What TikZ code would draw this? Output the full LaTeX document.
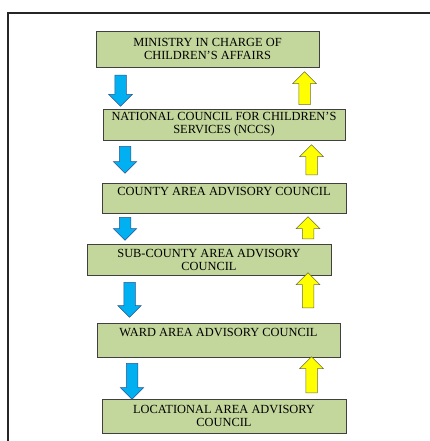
\documentclass[tikz,border=0pt]{standalone}
\usepackage{fontspec}
\setmainfont{Liberation Serif}
\usetikzlibrary{shapes.arrows}

\definecolor{councilgreen}{RGB}{195,214,155}
\definecolor{boxline}{RGB}{64,64,64}
\definecolor{downblue}{RGB}{0,176,240}
\definecolor{downline}{RGB}{47,82,143}
\definecolor{upyellow}{RGB}{255,255,0}
\definecolor{upline}{RGB}{110,110,60}

\tikzset{
  council/.style={draw=boxline, fill=councilgreen, line width=0.8pt, inner xsep=0pt, inner ysep=0pt,
    font=\fontsize{12.4}{13}\selectfont, align=center},
  downflow/.style={single arrow, draw=downline, fill=downblue, line width=0.5pt, shape border rotate=270,
    inner sep=5.5pt, minimum width=23pt, single arrow head extend=6pt, single arrow head indent=0pt, anchor=tail},
  upflow/.style={single arrow, draw=upline, fill=upyellow, line width=0.5pt, shape border rotate=90,
    inner sep=5.5pt, minimum width=23pt, single arrow head extend=6pt, single arrow head indent=0pt, anchor=tail}
}

\begin{document}
\begin{tikzpicture}[x=1pt, y=-1pt]
  \useasboundingbox (0,0) rectangle (430,441);
  \draw[line width=1.5pt, black!85] (8,441) -- (8,13) -- (430,13);

  % the councils
  \node[council, minimum width=223pt, minimum height=36pt] (ministry) at (207.5,49) {MINISTRY IN CHARGE OF\\CHILDREN’S AFFAIRS};
  \node[council, minimum width=242pt, minimum height=31pt] (nccs) at (224,124.5) {NATIONAL COUNCIL FOR CHILDREN’S\\SERVICES (NCCS)};
  \node[council, minimum width=244pt, text height=12.5pt, text depth=17.5pt, anchor=north] (county) at (224,183) {COUNTY AREA ADVISORY COUNCIL};
  \node[council, minimum width=244pt, minimum height=31pt] (subcounty) at (209,259.5) {SUB-COUNTY AREA ADVISORY\\COUNCIL};
  \node[council, minimum width=243pt, text height=13.5pt, text depth=20.5pt, anchor=north] (ward) at (218.5,323) {WARD AREA ADVISORY COUNCIL};
  \node[council, minimum width=244pt, minimum height=34pt] (locational) at (224,416) {LOCATIONAL AREA ADVISORY\\COUNCIL};

  % downward flow
  \node[downflow, minimum height=31pt] (down1) at (120.5,75) {};
  \node[downflow, minimum height=27pt] (down2) at (125,146) {};
  \node[downflow, minimum height=23pt] (down3) at (125,217) {};
  \node[downflow, minimum height=35pt] (down4) at (129.5,282) {};
  \node[downflow, minimum height=36pt] (down5) at (132,363) {};

  % upward flow
  \node[upflow, minimum height=33pt] (up1) at (304.5,105) {};
  \node[upflow, minimum height=30pt] (up2) at (311.5,175) {};
  \node[upflow, minimum height=22pt] (up3) at (308,239) {};
  \node[upflow, minimum height=35pt] (up4) at (308,308) {};
  \node[upflow, minimum height=36pt] (up5) at (311.5,393) {};
\end{tikzpicture}
\end{document}
